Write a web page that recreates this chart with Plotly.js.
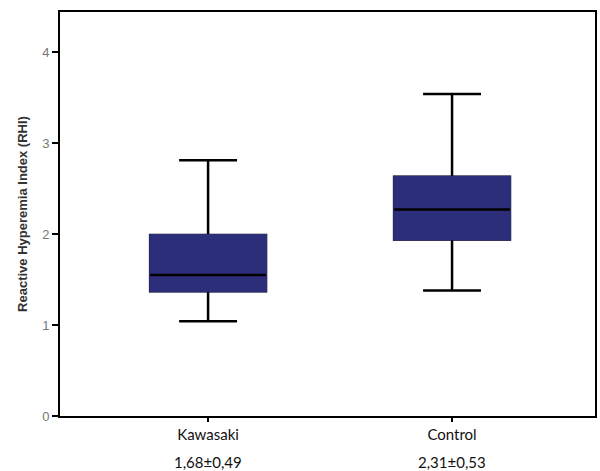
<!DOCTYPE html>
<html><head><meta charset="utf-8">
<script src="https://cdn.plot.ly/plotly-3.0.1.min.js"></script>
<style>body{margin:0;background:#fff}#chart{width:600px;height:471px}</style>
</head><body><div id="chart"></div>
<script>
const groups = ["Kawasaki", "Control"];
const stats = ["1,68±0,49", "2,31±0,53"];
const lowerFence = [1.04, 1.38];
const q1 = [1.37, 1.94];
const median = [1.55, 2.27];
const q3 = [1.99, 2.63];
const upperFence = [2.81, 3.54];

const NAVY = "#2c2e7a";
const common = {
  type: "box", x: groups, whiskerwidth: 0.5, width: 0.475,
  boxpoints: false, hoverinfo: "skip", showlegend: false
};

const traces = [
  // whiskers + caps (black)
  Object.assign({}, common, {
    q1: q1, median: median, q3: q3,
    lowerfence: lowerFence, upperfence: upperFence,
    fillcolor: NAVY, line: {color: "#000", width: 2.5}
  }),
  // box body without black border
  Object.assign({}, common, {
    q1: q1, median: median, q3: q3,
    lowerfence: q1, upperfence: q3,
    fillcolor: NAVY, line: {color: NAVY, width: 2}
  }),
  // median line (black)
  Object.assign({}, common, {
    q1: median, median: median, q3: median,
    lowerfence: median, upperfence: median,
    fillcolor: "rgba(0,0,0,0)", line: {color: "#000", width: 2.5}
  })
];

const annotations = groups.map((g, i) => ({
  x: g, xref: "x", y: 0, yref: "paper", yanchor: "top",
  yshift: -35, text: stats[i], showarrow: false,
  font: {family: "Lato, 'Open Sans', sans-serif", size: 15, color: "#111"}
}));

const layout = {
  width: 600, height: 471,
  margin: {l: 60, r: 5, t: 12, b: 55},
  paper_bgcolor: "#fff", plot_bgcolor: "#fff",
  showlegend: false, boxmode: "overlay",
  xaxis: {
    type: "category",
    range: [-0.607, 1.586],
    showgrid: false, zeroline: false,
    showline: true, linecolor: "#000", linewidth: 2, mirror: true,
    ticks: "outside", ticklen: 4, tickwidth: 1.5, tickcolor: "#000",
    tickfont: {family: "Lato, 'Open Sans', sans-serif", size: 15, color: "#111"}
  },
  yaxis: {
    range: [0, 4.44],
    tickvals: [0, 1, 2, 3, 4],
    showgrid: false, zeroline: false,
    showline: true, linecolor: "#000", linewidth: 2, mirror: true,
    ticks: "outside", ticklen: 6, tickwidth: 1.5, tickcolor: "#000",
    tickfont: {family: "Arial, 'Liberation Sans', sans-serif", size: 13, color: "#777"},
    title: {text: "<b>Reactive Hyperemia Index (RHI)</b>", standoff: 12,
            font: {family: "Arial, 'Liberation Sans', sans-serif", size: 13, color: "#333"}}
  },
  annotations: annotations
};

Plotly.newPlot("chart", traces, layout, {displayModeBar: false, staticPlot: true});
</script>
</body></html>
